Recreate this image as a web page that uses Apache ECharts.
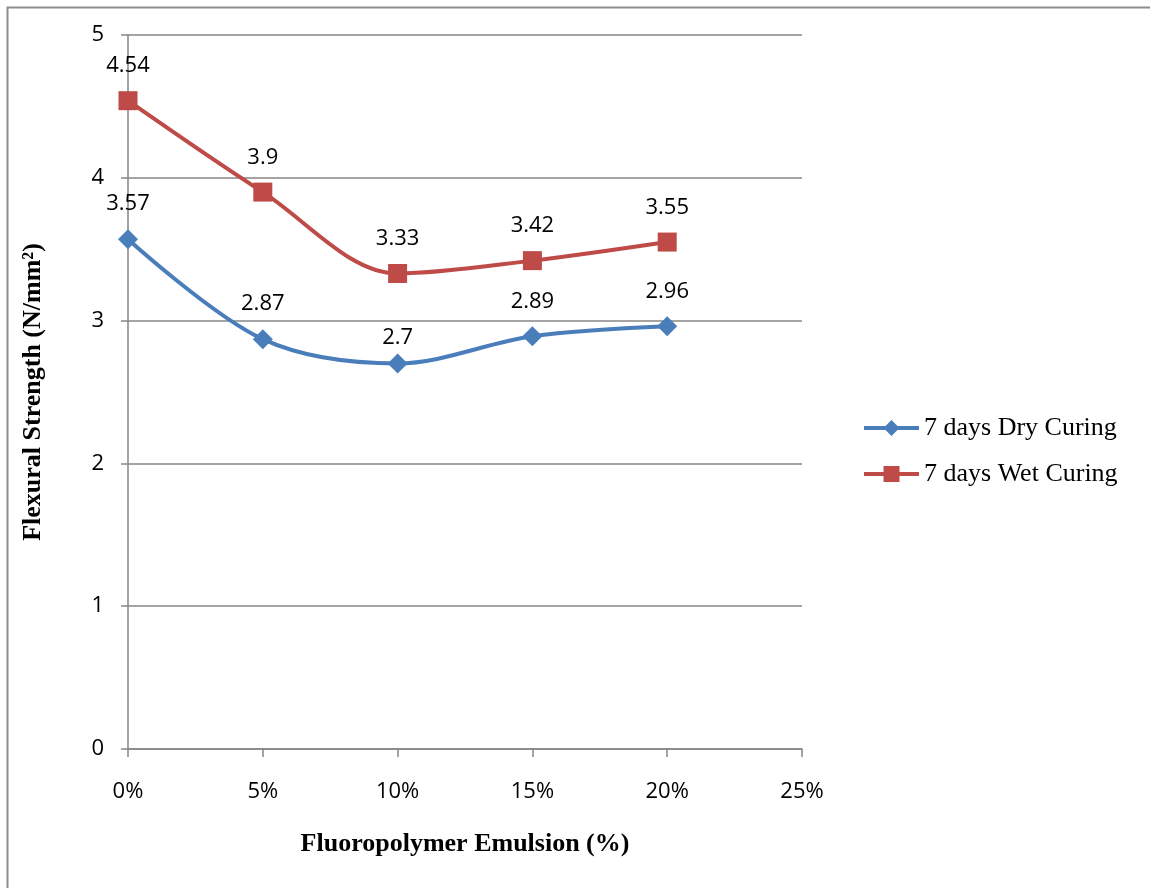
<!DOCTYPE html>
<html><head><meta charset="utf-8">
<script src="https://cdn.jsdelivr.net/npm/echarts@6/dist/echarts.min.js"></script>
<style>html,body{margin:0;padding:0;background:#fff}#c{width:1150px;height:888px}</style>
</head><body><div id="c"></div>
<script>
const xValues = [0, 5, 10, 15, 20];
const dryCuring = [3.57, 2.87, 2.7, 2.89, 2.96];
const wetCuring = [4.54, 3.9, 3.33, 3.42, 3.55];
const seriesNames = ['7 days Dry Curing', '7 days Wet Curing'];
const xTitle = 'Fluoropolymer Emulsion (%)';
const yTitle = 'Flexural Strength (N/mm²)';

const chart = echarts.init(document.getElementById('c'), null, {renderer: 'canvas'});
const gray = '#868686';
const lbl = {show: true, position: 'top', distance: 14, color: '#000', fontFamily: 'Open Sans', fontSize: 22};
function points(vals, tweak) {
  return xValues.map((x, i) => {
    const item = {value: [x, vals[i]]};
    if (tweak && tweak[i] != null) item.label = {distance: tweak[i]};
    return item;
  });
}
chart.setOption({
  animation: false,
  backgroundColor: '#fff',
  graphic: [{type: 'rect', shape: {x: 7.5, y: 7.5, width: 1200, height: 1000}, style: {fill: 'none', stroke: '#8c8c8c', lineWidth: 2}, silent: true}],
  grid: {left: 128, right: 348, top: 35, bottom: 139},
  legend: {
    orient: 'vertical', left: 857, top: 410, itemWidth: 55, itemHeight: 20, itemGap: 20,
    lineStyle: {width: 4},
    textStyle: {fontFamily: 'Liberation Serif', fontSize: 26, color: '#000'},
    data: seriesNames
  },
  xAxis: {
    type: 'value', min: 0, max: 25, interval: 5,
    name: xTitle, nameLocation: 'middle', nameGap: 82,
    nameTextStyle: {fontFamily: 'Liberation Serif', fontWeight: 'bold', fontSize: 26, color: '#000'},
    axisLine: {lineStyle: {color: gray, width: 1.5}},
    axisTick: {show: true, length: 8, lineStyle: {color: gray, width: 1.5}},
    axisLabel: {formatter: '{value}%', margin: 32, fontFamily: 'Open Sans', fontSize: 22, color: '#000'},
    splitLine: {show: false}
  },
  yAxis: {
    type: 'value', min: 0, max: 5, interval: 1,
    name: yTitle, nameLocation: 'middle', nameGap: 82, nameRotate: 90,
    nameTextStyle: {fontFamily: 'Liberation Serif', fontWeight: 'bold', fontSize: 26, color: '#000'},
    axisLine: {show: true, lineStyle: {color: gray, width: 1.5}},
    axisTick: {show: true, length: 7, lineStyle: {color: gray, width: 1.5}},
    axisLabel: {margin: 24, fontFamily: 'Open Sans', fontSize: 22, color: '#000'},
    splitLine: {show: true, lineStyle: {color: gray, width: 1.5}}
  },
  series: [
    {
      name: seriesNames[0], type: 'line', smooth: 0.33,
      data: points(dryCuring, [null, null, 5, null, null]),
      symbol: 'diamond', symbolSize: 20,
      lineStyle: {color: '#4A7EBB', width: 4},
      itemStyle: {color: '#4A7EBB'},
      label: lbl
    },
    {
      name: seriesNames[1], type: 'line', smooth: 0.33,
      data: points(wetCuring),
      symbol: 'rect', symbolSize: 19,
      lineStyle: {color: '#BE4B48', width: 4},
      itemStyle: {color: '#BE4B48'},
      label: lbl
    }
  ]
});
</script></body></html>
